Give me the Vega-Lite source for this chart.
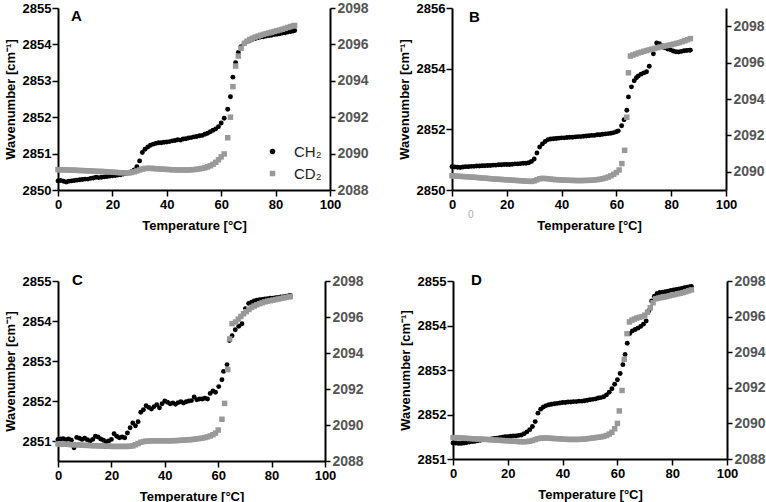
{
"$schema":"https://vega.github.io/schema/vega-lite/v6.json",
"padding":{"left":4,"top":1,"right":0,"bottom":2},
"config":{"view":{"stroke":null},"font":"Liberation Sans",
"axis":{"grid":false,"domainColor":"black","domainWidth":2,"tickColor":"black","tickWidth":1.5,"tickSize":6,"labelFont":"Liberation Sans","labelFontSize":13,"labelFontWeight":"bold","labelColor":"black","titleFont":"Liberation Sans","titleFontSize":13,"titleFontWeight":"bold","titleColor":"black","labelPadding":2,"labelOverlap":false,"labelFlush":false}},
"datasets":{
"A":[
{"s":"CH₂","t":0,"w":2850.25},{"s":"CH₂","t":1,"w":2850.26},{"s":"CH₂","t":2,"w":2850.24},{"s":"CH₂","t":3,"w":2850.22},{"s":"CH₂","t":4,"w":2850.24},{"s":"CH₂","t":5,"w":2850.25},{"s":"CH₂","t":6,"w":2850.26},{"s":"CH₂","t":7,"w":2850.27},{"s":"CH₂","t":8,"w":2850.28},{"s":"CH₂","t":9,"w":2850.29},{"s":"CH₂","t":10,"w":2850.30},{"s":"CH₂","t":11,"w":2850.30},{"s":"CH₂","t":12,"w":2850.32},{"s":"CH₂","t":13,"w":2850.33},{"s":"CH₂","t":14,"w":2850.35},{"s":"CH₂","t":15,"w":2850.34},{"s":"CH₂","t":16,"w":2850.35},{"s":"CH₂","t":17,"w":2850.36},{"s":"CH₂","t":18,"w":2850.37},{"s":"CH₂","t":19,"w":2850.38},{"s":"CH₂","t":20,"w":2850.39},{"s":"CH₂","t":21,"w":2850.40},{"s":"CH₂","t":22,"w":2850.41},{"s":"CH₂","t":23,"w":2850.42},{"s":"CH₂","t":24,"w":2850.44},{"s":"CH₂","t":25,"w":2850.45},{"s":"CH₂","t":26,"w":2850.47},{"s":"CH₂","t":27,"w":2850.50},{"s":"CH₂","t":28,"w":2850.55},{"s":"CH₂","t":29,"w":2850.64},{"s":"CH₂","t":30,"w":2850.80},{"s":"CH₂","t":31,"w":2851.03},{"s":"CH₂","t":32,"w":2851.12},{"s":"CH₂","t":33,"w":2851.18},{"s":"CH₂","t":34,"w":2851.23},{"s":"CH₂","t":35,"w":2851.26},{"s":"CH₂","t":36,"w":2851.28},{"s":"CH₂","t":37,"w":2851.30},{"s":"CH₂","t":38,"w":2851.30},{"s":"CH₂","t":39,"w":2851.31},{"s":"CH₂","t":40,"w":2851.32},{"s":"CH₂","t":41,"w":2851.33},{"s":"CH₂","t":42,"w":2851.35},{"s":"CH₂","t":43,"w":2851.36},{"s":"CH₂","t":44,"w":2851.38},{"s":"CH₂","t":45,"w":2851.37},{"s":"CH₂","t":46,"w":2851.40},{"s":"CH₂","t":47,"w":2851.41},{"s":"CH₂","t":48,"w":2851.43},{"s":"CH₂","t":49,"w":2851.44},{"s":"CH₂","t":50,"w":2851.46},{"s":"CH₂","t":51,"w":2851.47},{"s":"CH₂","t":52,"w":2851.49},{"s":"CH₂","t":53,"w":2851.50},{"s":"CH₂","t":54,"w":2851.53},{"s":"CH₂","t":55,"w":2851.56},{"s":"CH₂","t":56,"w":2851.60},{"s":"CH₂","t":57,"w":2851.64},{"s":"CH₂","t":58,"w":2851.68},{"s":"CH₂","t":59,"w":2851.74},{"s":"CH₂","t":60,"w":2851.84},{"s":"CH₂","t":61.1,"w":2851.97},{"s":"CH₂","t":62.4,"w":2852.22},{"s":"CH₂","t":63.4,"w":2852.56},{"s":"CH₂","t":64.3,"w":2853.10},{"s":"CH₂","t":65.3,"w":2853.50},{"s":"CH₂","t":66.3,"w":2853.78},{"s":"CH₂","t":67.3,"w":2853.94},{"s":"CH₂","t":68.5,"w":2854.03},{"s":"CH₂","t":69.5,"w":2854.08},{"s":"CH₂","t":70.5,"w":2854.11},{"s":"CH₂","t":71.5,"w":2854.14},{"s":"CH₂","t":72.5,"w":2854.16},{"s":"CH₂","t":73.5,"w":2854.18},{"s":"CH₂","t":74.5,"w":2854.20},{"s":"CH₂","t":75.5,"w":2854.21},{"s":"CH₂","t":76.5,"w":2854.23},{"s":"CH₂","t":77.5,"w":2854.24},{"s":"CH₂","t":78.5,"w":2854.25},{"s":"CH₂","t":79.5,"w":2854.27},{"s":"CH₂","t":80.5,"w":2854.28},{"s":"CH₂","t":81.5,"w":2854.29},{"s":"CH₂","t":82.5,"w":2854.31},{"s":"CH₂","t":83.5,"w":2854.32},{"s":"CH₂","t":84.5,"w":2854.34},{"s":"CH₂","t":85.5,"w":2854.35},{"s":"CH₂","t":86.5,"w":2854.37},{"s":"CH₂","t":87,"w":2854.38},
{"s":"CD₂","t":0,"w":2089.12},{"s":"CD₂","t":1,"w":2089.11},{"s":"CD₂","t":2,"w":2089.11},{"s":"CD₂","t":3,"w":2089.10},{"s":"CD₂","t":4,"w":2089.10},{"s":"CD₂","t":5,"w":2089.09},{"s":"CD₂","t":6,"w":2089.09},{"s":"CD₂","t":7,"w":2089.08},{"s":"CD₂","t":8,"w":2089.07},{"s":"CD₂","t":9,"w":2089.07},{"s":"CD₂","t":10,"w":2089.06},{"s":"CD₂","t":11,"w":2089.05},{"s":"CD₂","t":12,"w":2089.05},{"s":"CD₂","t":13,"w":2089.04},{"s":"CD₂","t":14,"w":2089.03},{"s":"CD₂","t":15,"w":2089.02},{"s":"CD₂","t":16,"w":2089.02},{"s":"CD₂","t":17,"w":2089.01},{"s":"CD₂","t":18,"w":2089.00},{"s":"CD₂","t":19,"w":2088.99},{"s":"CD₂","t":20,"w":2088.98},{"s":"CD₂","t":21,"w":2088.97},{"s":"CD₂","t":22,"w":2088.96},{"s":"CD₂","t":23,"w":2088.95},{"s":"CD₂","t":24,"w":2088.95},{"s":"CD₂","t":25,"w":2088.94},{"s":"CD₂","t":26,"w":2088.94},{"s":"CD₂","t":27,"w":2088.96},{"s":"CD₂","t":28,"w":2089.00},{"s":"CD₂","t":29,"w":2089.05},{"s":"CD₂","t":30,"w":2089.10},{"s":"CD₂","t":31,"w":2089.15},{"s":"CD₂","t":32,"w":2089.18},{"s":"CD₂","t":33,"w":2089.19},{"s":"CD₂","t":34,"w":2089.19},{"s":"CD₂","t":35,"w":2089.18},{"s":"CD₂","t":36,"w":2089.17},{"s":"CD₂","t":37,"w":2089.16},{"s":"CD₂","t":38,"w":2089.15},{"s":"CD₂","t":39,"w":2089.14},{"s":"CD₂","t":40,"w":2089.13},{"s":"CD₂","t":41,"w":2089.12},{"s":"CD₂","t":42,"w":2089.11},{"s":"CD₂","t":43,"w":2089.11},{"s":"CD₂","t":44,"w":2089.10},{"s":"CD₂","t":45,"w":2089.10},{"s":"CD₂","t":46,"w":2089.10},{"s":"CD₂","t":47,"w":2089.10},{"s":"CD₂","t":48,"w":2089.10},{"s":"CD₂","t":49,"w":2089.11},{"s":"CD₂","t":50,"w":2089.12},{"s":"CD₂","t":51,"w":2089.14},{"s":"CD₂","t":52,"w":2089.16},{"s":"CD₂","t":53,"w":2089.19},{"s":"CD₂","t":54,"w":2089.22},{"s":"CD₂","t":55,"w":2089.27},{"s":"CD₂","t":56,"w":2089.33},{"s":"CD₂","t":57,"w":2089.41},{"s":"CD₂","t":58,"w":2089.52},{"s":"CD₂","t":59,"w":2089.66},{"s":"CD₂","t":60,"w":2089.82},{"s":"CD₂","t":61.1,"w":2089.98},{"s":"CD₂","t":62.4,"w":2090.87},{"s":"CD₂","t":63.4,"w":2092.00},{"s":"CD₂","t":64.3,"w":2093.68},{"s":"CD₂","t":65.3,"w":2094.81},{"s":"CD₂","t":66.3,"w":2095.36},{"s":"CD₂","t":67.3,"w":2095.79},{"s":"CD₂","t":68.5,"w":2096.06},{"s":"CD₂","t":69.5,"w":2096.18},{"s":"CD₂","t":70.5,"w":2096.27},{"s":"CD₂","t":71.5,"w":2096.34},{"s":"CD₂","t":72.5,"w":2096.40},{"s":"CD₂","t":73.5,"w":2096.45},{"s":"CD₂","t":74.5,"w":2096.50},{"s":"CD₂","t":75.5,"w":2096.55},{"s":"CD₂","t":76.5,"w":2096.59},{"s":"CD₂","t":77.5,"w":2096.63},{"s":"CD₂","t":78.5,"w":2096.67},{"s":"CD₂","t":79.5,"w":2096.71},{"s":"CD₂","t":80.5,"w":2096.75},{"s":"CD₂","t":81.5,"w":2096.79},{"s":"CD₂","t":82.5,"w":2096.83},{"s":"CD₂","t":83.5,"w":2096.88},{"s":"CD₂","t":84.5,"w":2096.93},{"s":"CD₂","t":85.5,"w":2096.98},{"s":"CD₂","t":86.5,"w":2097.02},{"s":"CD₂","t":87,"w":2097.04}
],
"B":[
{"s":"CH₂","t":0,"w":2850.77},{"s":"CH₂","t":1,"w":2850.76},{"s":"CH₂","t":2,"w":2850.75},{"s":"CH₂","t":3,"w":2850.74},{"s":"CH₂","t":4,"w":2850.76},{"s":"CH₂","t":5,"w":2850.77},{"s":"CH₂","t":6,"w":2850.77},{"s":"CH₂","t":7,"w":2850.78},{"s":"CH₂","t":8,"w":2850.78},{"s":"CH₂","t":9,"w":2850.79},{"s":"CH₂","t":10,"w":2850.79},{"s":"CH₂","t":11,"w":2850.80},{"s":"CH₂","t":12,"w":2850.80},{"s":"CH₂","t":13,"w":2850.81},{"s":"CH₂","t":14,"w":2850.81},{"s":"CH₂","t":15,"w":2850.82},{"s":"CH₂","t":16,"w":2850.82},{"s":"CH₂","t":17,"w":2850.83},{"s":"CH₂","t":18,"w":2850.83},{"s":"CH₂","t":19,"w":2850.84},{"s":"CH₂","t":20,"w":2850.84},{"s":"CH₂","t":21,"w":2850.84},{"s":"CH₂","t":22,"w":2850.85},{"s":"CH₂","t":23,"w":2850.86},{"s":"CH₂","t":24,"w":2850.86},{"s":"CH₂","t":25,"w":2850.87},{"s":"CH₂","t":26,"w":2850.88},{"s":"CH₂","t":27,"w":2850.88},{"s":"CH₂","t":28,"w":2850.90},{"s":"CH₂","t":29,"w":2850.94},{"s":"CH₂","t":30,"w":2851.02},{"s":"CH₂","t":31,"w":2851.22},{"s":"CH₂","t":32,"w":2851.42},{"s":"CH₂","t":33,"w":2851.52},{"s":"CH₂","t":34,"w":2851.60},{"s":"CH₂","t":35,"w":2851.66},{"s":"CH₂","t":36,"w":2851.68},{"s":"CH₂","t":37,"w":2851.69},{"s":"CH₂","t":38,"w":2851.70},{"s":"CH₂","t":39,"w":2851.71},{"s":"CH₂","t":40,"w":2851.72},{"s":"CH₂","t":41,"w":2851.72},{"s":"CH₂","t":42,"w":2851.73},{"s":"CH₂","t":43,"w":2851.74},{"s":"CH₂","t":44,"w":2851.74},{"s":"CH₂","t":45,"w":2851.75},{"s":"CH₂","t":46,"w":2851.76},{"s":"CH₂","t":47,"w":2851.76},{"s":"CH₂","t":48,"w":2851.77},{"s":"CH₂","t":49,"w":2851.78},{"s":"CH₂","t":50,"w":2851.79},{"s":"CH₂","t":51,"w":2851.80},{"s":"CH₂","t":52,"w":2851.80},{"s":"CH₂","t":53,"w":2851.82},{"s":"CH₂","t":54,"w":2851.82},{"s":"CH₂","t":55,"w":2851.84},{"s":"CH₂","t":56,"w":2851.85},{"s":"CH₂","t":57,"w":2851.86},{"s":"CH₂","t":58,"w":2851.87},{"s":"CH₂","t":59,"w":2851.89},{"s":"CH₂","t":60,"w":2851.92},{"s":"CH₂","t":60.7,"w":2851.95},{"s":"CH₂","t":61.9,"w":2852.12},{"s":"CH₂","t":62.8,"w":2852.32},{"s":"CH₂","t":63.8,"w":2852.63},{"s":"CH₂","t":64.4,"w":2853.07},{"s":"CH₂","t":65.5,"w":2853.40},{"s":"CH₂","t":66.5,"w":2853.60},{"s":"CH₂","t":67.3,"w":2853.70},{"s":"CH₂","t":68,"w":2853.76},{"s":"CH₂","t":69,"w":2853.82},{"s":"CH₂","t":70,"w":2853.86},{"s":"CH₂","t":71,"w":2853.90},{"s":"CH₂","t":72,"w":2854.08},{"s":"CH₂","t":73.5,"w":2854.49},{"s":"CH₂","t":74.7,"w":2854.85},{"s":"CH₂","t":75.7,"w":2854.82},{"s":"CH₂","t":76.7,"w":2854.75},{"s":"CH₂","t":77.7,"w":2854.69},{"s":"CH₂","t":78.7,"w":2854.65},{"s":"CH₂","t":79.7,"w":2854.62},{"s":"CH₂","t":80.7,"w":2854.58},{"s":"CH₂","t":81.7,"w":2854.56},{"s":"CH₂","t":82.7,"w":2854.55},{"s":"CH₂","t":83.7,"w":2854.57},{"s":"CH₂","t":84.7,"w":2854.59},{"s":"CH₂","t":85.7,"w":2854.60},{"s":"CH₂","t":86.7,"w":2854.61},{"s":"CH₂","t":87,"w":2854.61},
{"s":"CD₂","t":0,"w":2089.78},{"s":"CD₂","t":1,"w":2089.77},{"s":"CD₂","t":2,"w":2089.76},{"s":"CD₂","t":3,"w":2089.75},{"s":"CD₂","t":4,"w":2089.74},{"s":"CD₂","t":5,"w":2089.73},{"s":"CD₂","t":6,"w":2089.72},{"s":"CD₂","t":7,"w":2089.71},{"s":"CD₂","t":8,"w":2089.70},{"s":"CD₂","t":9,"w":2089.69},{"s":"CD₂","t":10,"w":2089.67},{"s":"CD₂","t":11,"w":2089.66},{"s":"CD₂","t":12,"w":2089.65},{"s":"CD₂","t":13,"w":2089.64},{"s":"CD₂","t":14,"w":2089.62},{"s":"CD₂","t":15,"w":2089.61},{"s":"CD₂","t":16,"w":2089.60},{"s":"CD₂","t":17,"w":2089.59},{"s":"CD₂","t":18,"w":2089.58},{"s":"CD₂","t":19,"w":2089.57},{"s":"CD₂","t":20,"w":2089.56},{"s":"CD₂","t":21,"w":2089.55},{"s":"CD₂","t":22,"w":2089.54},{"s":"CD₂","t":23,"w":2089.53},{"s":"CD₂","t":24,"w":2089.52},{"s":"CD₂","t":25,"w":2089.51},{"s":"CD₂","t":26,"w":2089.50},{"s":"CD₂","t":27,"w":2089.49},{"s":"CD₂","t":28,"w":2089.48},{"s":"CD₂","t":29,"w":2089.47},{"s":"CD₂","t":30,"w":2089.50},{"s":"CD₂","t":31,"w":2089.56},{"s":"CD₂","t":32,"w":2089.62},{"s":"CD₂","t":33,"w":2089.64},{"s":"CD₂","t":34,"w":2089.63},{"s":"CD₂","t":35,"w":2089.62},{"s":"CD₂","t":36,"w":2089.60},{"s":"CD₂","t":37,"w":2089.58},{"s":"CD₂","t":38,"w":2089.57},{"s":"CD₂","t":39,"w":2089.56},{"s":"CD₂","t":40,"w":2089.55},{"s":"CD₂","t":41,"w":2089.54},{"s":"CD₂","t":42,"w":2089.54},{"s":"CD₂","t":43,"w":2089.53},{"s":"CD₂","t":44,"w":2089.53},{"s":"CD₂","t":45,"w":2089.52},{"s":"CD₂","t":46,"w":2089.52},{"s":"CD₂","t":47,"w":2089.52},{"s":"CD₂","t":48,"w":2089.52},{"s":"CD₂","t":49,"w":2089.53},{"s":"CD₂","t":50,"w":2089.53},{"s":"CD₂","t":51,"w":2089.54},{"s":"CD₂","t":52,"w":2089.55},{"s":"CD₂","t":53,"w":2089.57},{"s":"CD₂","t":54,"w":2089.59},{"s":"CD₂","t":55,"w":2089.62},{"s":"CD₂","t":56,"w":2089.66},{"s":"CD₂","t":57,"w":2089.71},{"s":"CD₂","t":58,"w":2089.78},{"s":"CD₂","t":59,"w":2089.86},{"s":"CD₂","t":60,"w":2089.96},{"s":"CD₂","t":61,"w":2090.10},{"s":"CD₂","t":62,"w":2090.45},{"s":"CD₂","t":63,"w":2091.18},{"s":"CD₂","t":63.8,"w":2093.00},{"s":"CD₂","t":64.4,"w":2095.44},{"s":"CD₂","t":65.1,"w":2096.36},{"s":"CD₂","t":66,"w":2096.42},{"s":"CD₂","t":67,"w":2096.47},{"s":"CD₂","t":68,"w":2096.53},{"s":"CD₂","t":69,"w":2096.57},{"s":"CD₂","t":70,"w":2096.62},{"s":"CD₂","t":71,"w":2096.66},{"s":"CD₂","t":72,"w":2096.70},{"s":"CD₂","t":73,"w":2096.74},{"s":"CD₂","t":74,"w":2096.78},{"s":"CD₂","t":75,"w":2096.82},{"s":"CD₂","t":76,"w":2096.86},{"s":"CD₂","t":77,"w":2096.89},{"s":"CD₂","t":78,"w":2096.92},{"s":"CD₂","t":79,"w":2096.95},{"s":"CD₂","t":80,"w":2096.98},{"s":"CD₂","t":81,"w":2097.02},{"s":"CD₂","t":82,"w":2097.06},{"s":"CD₂","t":83,"w":2097.10},{"s":"CD₂","t":84,"w":2097.15},{"s":"CD₂","t":85,"w":2097.20},{"s":"CD₂","t":86,"w":2097.26},{"s":"CD₂","t":87,"w":2097.32}
],
"C":[
{"s":"CH₂","t":0,"w":2851.04},{"s":"CH₂","t":1,"w":2851.05},{"s":"CH₂","t":2,"w":2851.06},{"s":"CH₂","t":3,"w":2851.03},{"s":"CH₂","t":4,"w":2851.05},{"s":"CH₂","t":5,"w":2851.02},{"s":"CH₂","t":6,"w":2850.83},{"s":"CH₂","t":7,"w":2851.09},{"s":"CH₂","t":8,"w":2851.07},{"s":"CH₂","t":9,"w":2851.04},{"s":"CH₂","t":10,"w":2851.07},{"s":"CH₂","t":11,"w":2851.03},{"s":"CH₂","t":12,"w":2851.00},{"s":"CH₂","t":13,"w":2851.04},{"s":"CH₂","t":14,"w":2851.12},{"s":"CH₂","t":15,"w":2851.10},{"s":"CH₂","t":16,"w":2851.05},{"s":"CH₂","t":17,"w":2851.02},{"s":"CH₂","t":18,"w":2850.98},{"s":"CH₂","t":19,"w":2851.00},{"s":"CH₂","t":20,"w":2851.04},{"s":"CH₂","t":21,"w":2851.18},{"s":"CH₂","t":22,"w":2851.12},{"s":"CH₂","t":23,"w":2851.08},{"s":"CH₂","t":24,"w":2851.10},{"s":"CH₂","t":25,"w":2851.08},{"s":"CH₂","t":26,"w":2851.20},{"s":"CH₂","t":27,"w":2851.33},{"s":"CH₂","t":28,"w":2851.45},{"s":"CH₂","t":29,"w":2851.38},{"s":"CH₂","t":30,"w":2851.48},{"s":"CH₂","t":31,"w":2851.72},{"s":"CH₂","t":32,"w":2851.78},{"s":"CH₂","t":33,"w":2851.88},{"s":"CH₂","t":34,"w":2851.84},{"s":"CH₂","t":35,"w":2851.80},{"s":"CH₂","t":36,"w":2851.86},{"s":"CH₂","t":37,"w":2851.91},{"s":"CH₂","t":38,"w":2851.83},{"s":"CH₂","t":39,"w":2851.93},{"s":"CH₂","t":40,"w":2852.00},{"s":"CH₂","t":41,"w":2851.97},{"s":"CH₂","t":42,"w":2851.93},{"s":"CH₂","t":43,"w":2851.95},{"s":"CH₂","t":44,"w":2851.92},{"s":"CH₂","t":45,"w":2851.96},{"s":"CH₂","t":46,"w":2851.98},{"s":"CH₂","t":47,"w":2851.95},{"s":"CH₂","t":48,"w":2851.98},{"s":"CH₂","t":49,"w":2852.00},{"s":"CH₂","t":50,"w":2852.01},{"s":"CH₂","t":51,"w":2852.10},{"s":"CH₂","t":52,"w":2852.03},{"s":"CH₂","t":53,"w":2852.05},{"s":"CH₂","t":54,"w":2852.05},{"s":"CH₂","t":55,"w":2852.07},{"s":"CH₂","t":56,"w":2852.05},{"s":"CH₂","t":57,"w":2852.19},{"s":"CH₂","t":58,"w":2852.25},{"s":"CH₂","t":59,"w":2852.22},{"s":"CH₂","t":60.2,"w":2852.36},{"s":"CH₂","t":61.4,"w":2852.53},{"s":"CH₂","t":62,"w":2852.74},{"s":"CH₂","t":63.3,"w":2852.91},{"s":"CH₂","t":64.2,"w":2853.51},{"s":"CH₂","t":65.2,"w":2853.63},{"s":"CH₂","t":66.4,"w":2853.78},{"s":"CH₂","t":67.7,"w":2853.87},{"s":"CH₂","t":68.9,"w":2853.93},{"s":"CH₂","t":70.2,"w":2854.31},{"s":"CH₂","t":71.4,"w":2854.44},{"s":"CH₂","t":72.5,"w":2854.47},{"s":"CH₂","t":73.5,"w":2854.50},{"s":"CH₂","t":74.5,"w":2854.52},{"s":"CH₂","t":75.5,"w":2854.53},{"s":"CH₂","t":76.5,"w":2854.54},{"s":"CH₂","t":77.5,"w":2854.55},{"s":"CH₂","t":78.5,"w":2854.56},{"s":"CH₂","t":79.5,"w":2854.57},{"s":"CH₂","t":80.5,"w":2854.57},{"s":"CH₂","t":81.5,"w":2854.58},{"s":"CH₂","t":82.5,"w":2854.59},{"s":"CH₂","t":83.5,"w":2854.60},{"s":"CH₂","t":84.5,"w":2854.61},{"s":"CH₂","t":85.5,"w":2854.62},{"s":"CH₂","t":86.5,"w":2854.63},{"s":"CH₂","t":87,"w":2854.64},
{"s":"CD₂","t":0,"w":2088.95},{"s":"CD₂","t":1,"w":2088.95},{"s":"CD₂","t":2,"w":2088.94},{"s":"CD₂","t":3,"w":2088.93},{"s":"CD₂","t":4,"w":2088.92},{"s":"CD₂","t":5,"w":2088.91},{"s":"CD₂","t":6,"w":2088.90},{"s":"CD₂","t":7,"w":2088.90},{"s":"CD₂","t":8,"w":2088.89},{"s":"CD₂","t":9,"w":2088.88},{"s":"CD₂","t":10,"w":2088.87},{"s":"CD₂","t":11,"w":2088.87},{"s":"CD₂","t":12,"w":2088.86},{"s":"CD₂","t":13,"w":2088.85},{"s":"CD₂","t":14,"w":2088.85},{"s":"CD₂","t":15,"w":2088.84},{"s":"CD₂","t":16,"w":2088.84},{"s":"CD₂","t":17,"w":2088.83},{"s":"CD₂","t":18,"w":2088.82},{"s":"CD₂","t":19,"w":2088.82},{"s":"CD₂","t":20,"w":2088.81},{"s":"CD₂","t":21,"w":2088.81},{"s":"CD₂","t":22,"w":2088.81},{"s":"CD₂","t":23,"w":2088.81},{"s":"CD₂","t":24,"w":2088.81},{"s":"CD₂","t":25,"w":2088.81},{"s":"CD₂","t":26,"w":2088.81},{"s":"CD₂","t":27,"w":2088.82},{"s":"CD₂","t":28,"w":2088.84},{"s":"CD₂","t":29,"w":2088.90},{"s":"CD₂","t":30,"w":2088.97},{"s":"CD₂","t":31,"w":2089.04},{"s":"CD₂","t":32,"w":2089.08},{"s":"CD₂","t":33,"w":2089.10},{"s":"CD₂","t":34,"w":2089.11},{"s":"CD₂","t":35,"w":2089.12},{"s":"CD₂","t":36,"w":2089.12},{"s":"CD₂","t":37,"w":2089.12},{"s":"CD₂","t":38,"w":2089.12},{"s":"CD₂","t":39,"w":2089.12},{"s":"CD₂","t":40,"w":2089.12},{"s":"CD₂","t":41,"w":2089.12},{"s":"CD₂","t":42,"w":2089.12},{"s":"CD₂","t":43,"w":2089.13},{"s":"CD₂","t":44,"w":2089.13},{"s":"CD₂","t":45,"w":2089.14},{"s":"CD₂","t":46,"w":2089.15},{"s":"CD₂","t":47,"w":2089.16},{"s":"CD₂","t":48,"w":2089.17},{"s":"CD₂","t":49,"w":2089.18},{"s":"CD₂","t":50,"w":2089.19},{"s":"CD₂","t":51,"w":2089.21},{"s":"CD₂","t":52,"w":2089.23},{"s":"CD₂","t":53,"w":2089.25},{"s":"CD₂","t":54,"w":2089.27},{"s":"CD₂","t":55,"w":2089.30},{"s":"CD₂","t":56,"w":2089.34},{"s":"CD₂","t":57,"w":2089.39},{"s":"CD₂","t":58,"w":2089.46},{"s":"CD₂","t":59,"w":2089.55},{"s":"CD₂","t":60,"w":2089.72},{"s":"CD₂","t":61.4,"w":2090.32},{"s":"CD₂","t":62.4,"w":2091.20},{"s":"CD₂","t":63.6,"w":2093.08},{"s":"CD₂","t":64.3,"w":2094.78},{"s":"CD₂","t":65.2,"w":2095.63},{"s":"CD₂","t":66.5,"w":2095.72},{"s":"CD₂","t":67.5,"w":2095.88},{"s":"CD₂","t":68.5,"w":2096.03},{"s":"CD₂","t":69.5,"w":2096.18},{"s":"CD₂","t":70.5,"w":2096.30},{"s":"CD₂","t":71.5,"w":2096.42},{"s":"CD₂","t":72.5,"w":2096.53},{"s":"CD₂","t":73.5,"w":2096.61},{"s":"CD₂","t":74.5,"w":2096.68},{"s":"CD₂","t":75.5,"w":2096.74},{"s":"CD₂","t":76.5,"w":2096.79},{"s":"CD₂","t":77.5,"w":2096.84},{"s":"CD₂","t":78.5,"w":2096.88},{"s":"CD₂","t":79.5,"w":2096.91},{"s":"CD₂","t":80.5,"w":2096.94},{"s":"CD₂","t":81.5,"w":2096.97},{"s":"CD₂","t":82.5,"w":2097.00},{"s":"CD₂","t":83.5,"w":2097.03},{"s":"CD₂","t":84.5,"w":2097.06},{"s":"CD₂","t":85.5,"w":2097.09},{"s":"CD₂","t":86.5,"w":2097.12},{"s":"CD₂","t":87,"w":2097.14}
],
"D":[
{"s":"CH₂","t":0,"w":2851.36},{"s":"CH₂","t":1,"w":2851.36},{"s":"CH₂","t":2,"w":2851.35},{"s":"CH₂","t":3,"w":2851.35},{"s":"CH₂","t":4,"w":2851.36},{"s":"CH₂","t":5,"w":2851.37},{"s":"CH₂","t":6,"w":2851.38},{"s":"CH₂","t":7,"w":2851.39},{"s":"CH₂","t":8,"w":2851.40},{"s":"CH₂","t":9,"w":2851.41},{"s":"CH₂","t":10,"w":2851.42},{"s":"CH₂","t":11,"w":2851.43},{"s":"CH₂","t":12,"w":2851.44},{"s":"CH₂","t":13,"w":2851.44},{"s":"CH₂","t":14,"w":2851.45},{"s":"CH₂","t":15,"w":2851.46},{"s":"CH₂","t":16,"w":2851.47},{"s":"CH₂","t":17,"w":2851.48},{"s":"CH₂","t":18,"w":2851.49},{"s":"CH₂","t":19,"w":2851.50},{"s":"CH₂","t":20,"w":2851.50},{"s":"CH₂","t":21,"w":2851.51},{"s":"CH₂","t":22,"w":2851.52},{"s":"CH₂","t":23,"w":2851.52},{"s":"CH₂","t":24,"w":2851.53},{"s":"CH₂","t":25,"w":2851.54},{"s":"CH₂","t":26,"w":2851.57},{"s":"CH₂","t":27,"w":2851.61},{"s":"CH₂","t":28,"w":2851.66},{"s":"CH₂","t":29,"w":2851.73},{"s":"CH₂","t":30,"w":2851.84},{"s":"CH₂","t":31,"w":2852.03},{"s":"CH₂","t":32,"w":2852.12},{"s":"CH₂","t":33,"w":2852.17},{"s":"CH₂","t":34,"w":2852.20},{"s":"CH₂","t":35,"w":2852.22},{"s":"CH₂","t":36,"w":2852.23},{"s":"CH₂","t":37,"w":2852.24},{"s":"CH₂","t":38,"w":2852.25},{"s":"CH₂","t":39,"w":2852.26},{"s":"CH₂","t":40,"w":2852.27},{"s":"CH₂","t":41,"w":2852.27},{"s":"CH₂","t":42,"w":2852.28},{"s":"CH₂","t":43,"w":2852.28},{"s":"CH₂","t":44,"w":2852.29},{"s":"CH₂","t":45,"w":2852.29},{"s":"CH₂","t":46,"w":2852.30},{"s":"CH₂","t":47,"w":2852.30},{"s":"CH₂","t":48,"w":2852.31},{"s":"CH₂","t":49,"w":2852.32},{"s":"CH₂","t":50,"w":2852.33},{"s":"CH₂","t":51,"w":2852.34},{"s":"CH₂","t":52,"w":2852.35},{"s":"CH₂","t":53,"w":2852.37},{"s":"CH₂","t":54,"w":2852.38},{"s":"CH₂","t":55,"w":2852.40},{"s":"CH₂","t":56,"w":2852.44},{"s":"CH₂","t":57,"w":2852.50},{"s":"CH₂","t":58,"w":2852.58},{"s":"CH₂","t":59,"w":2852.68},{"s":"CH₂","t":60,"w":2852.78},{"s":"CH₂","t":61,"w":2852.92},{"s":"CH₂","t":62,"w":2853.12},{"s":"CH₂","t":62.8,"w":2853.35},{"s":"CH₂","t":63.6,"w":2853.60},{"s":"CH₂","t":64.5,"w":2853.82},{"s":"CH₂","t":65.5,"w":2853.88},{"s":"CH₂","t":66.5,"w":2853.91},{"s":"CH₂","t":67.5,"w":2853.94},{"s":"CH₂","t":68.5,"w":2853.98},{"s":"CH₂","t":69.5,"w":2854.03},{"s":"CH₂","t":70.5,"w":2854.10},{"s":"CH₂","t":71.5,"w":2854.33},{"s":"CH₂","t":72.5,"w":2854.55},{"s":"CH₂","t":73.5,"w":2854.66},{"s":"CH₂","t":74.5,"w":2854.72},{"s":"CH₂","t":75.5,"w":2854.74},{"s":"CH₂","t":76.5,"w":2854.75},{"s":"CH₂","t":77.5,"w":2854.76},{"s":"CH₂","t":78.5,"w":2854.77},{"s":"CH₂","t":79.5,"w":2854.79},{"s":"CH₂","t":80.5,"w":2854.80},{"s":"CH₂","t":81.5,"w":2854.81},{"s":"CH₂","t":82.5,"w":2854.82},{"s":"CH₂","t":83.5,"w":2854.83},{"s":"CH₂","t":84.5,"w":2854.85},{"s":"CH₂","t":85.5,"w":2854.86},{"s":"CH₂","t":86.5,"w":2854.87},{"s":"CH₂","t":87,"w":2854.88},
{"s":"CD₂","t":0,"w":2089.20},{"s":"CD₂","t":1,"w":2089.20},{"s":"CD₂","t":2,"w":2089.19},{"s":"CD₂","t":3,"w":2089.18},{"s":"CD₂","t":4,"w":2089.17},{"s":"CD₂","t":5,"w":2089.16},{"s":"CD₂","t":6,"w":2089.15},{"s":"CD₂","t":7,"w":2089.14},{"s":"CD₂","t":8,"w":2089.13},{"s":"CD₂","t":9,"w":2089.12},{"s":"CD₂","t":10,"w":2089.12},{"s":"CD₂","t":11,"w":2089.11},{"s":"CD₂","t":12,"w":2089.10},{"s":"CD₂","t":13,"w":2089.09},{"s":"CD₂","t":14,"w":2089.08},{"s":"CD₂","t":15,"w":2089.07},{"s":"CD₂","t":16,"w":2089.06},{"s":"CD₂","t":17,"w":2089.05},{"s":"CD₂","t":18,"w":2089.04},{"s":"CD₂","t":19,"w":2089.03},{"s":"CD₂","t":20,"w":2089.02},{"s":"CD₂","t":21,"w":2089.01},{"s":"CD₂","t":22,"w":2089.00},{"s":"CD₂","t":23,"w":2088.99},{"s":"CD₂","t":24,"w":2088.98},{"s":"CD₂","t":25,"w":2088.97},{"s":"CD₂","t":26,"w":2088.97},{"s":"CD₂","t":27,"w":2088.98},{"s":"CD₂","t":28,"w":2089.00},{"s":"CD₂","t":29,"w":2089.04},{"s":"CD₂","t":30,"w":2089.09},{"s":"CD₂","t":31,"w":2089.14},{"s":"CD₂","t":32,"w":2089.17},{"s":"CD₂","t":33,"w":2089.18},{"s":"CD₂","t":34,"w":2089.18},{"s":"CD₂","t":35,"w":2089.17},{"s":"CD₂","t":36,"w":2089.16},{"s":"CD₂","t":37,"w":2089.15},{"s":"CD₂","t":38,"w":2089.14},{"s":"CD₂","t":39,"w":2089.13},{"s":"CD₂","t":40,"w":2089.12},{"s":"CD₂","t":41,"w":2089.11},{"s":"CD₂","t":42,"w":2089.10},{"s":"CD₂","t":43,"w":2089.10},{"s":"CD₂","t":44,"w":2089.10},{"s":"CD₂","t":45,"w":2089.10},{"s":"CD₂","t":46,"w":2089.10},{"s":"CD₂","t":47,"w":2089.11},{"s":"CD₂","t":48,"w":2089.12},{"s":"CD₂","t":49,"w":2089.14},{"s":"CD₂","t":50,"w":2089.16},{"s":"CD₂","t":51,"w":2089.18},{"s":"CD₂","t":52,"w":2089.20},{"s":"CD₂","t":53,"w":2089.22},{"s":"CD₂","t":54,"w":2089.24},{"s":"CD₂","t":55,"w":2089.27},{"s":"CD₂","t":56,"w":2089.32},{"s":"CD₂","t":57,"w":2089.40},{"s":"CD₂","t":58,"w":2089.50},{"s":"CD₂","t":59,"w":2089.70},{"s":"CD₂","t":60,"w":2090.00},{"s":"CD₂","t":60.7,"w":2090.70},{"s":"CD₂","t":61.7,"w":2091.85},{"s":"CD₂","t":62.5,"w":2093.60},{"s":"CD₂","t":63.5,"w":2095.04},{"s":"CD₂","t":64.4,"w":2095.70},{"s":"CD₂","t":65.3,"w":2095.80},{"s":"CD₂","t":66.2,"w":2095.86},{"s":"CD₂","t":67.1,"w":2095.92},{"s":"CD₂","t":68,"w":2095.96},{"s":"CD₂","t":69,"w":2096.00},{"s":"CD₂","t":70,"w":2096.08},{"s":"CD₂","t":71,"w":2096.25},{"s":"CD₂","t":72,"w":2096.50},{"s":"CD₂","t":73,"w":2096.78},{"s":"CD₂","t":74,"w":2097.00},{"s":"CD₂","t":75,"w":2097.04},{"s":"CD₂","t":76,"w":2097.07},{"s":"CD₂","t":77,"w":2097.10},{"s":"CD₂","t":78,"w":2097.13},{"s":"CD₂","t":79,"w":2097.17},{"s":"CD₂","t":80,"w":2097.21},{"s":"CD₂","t":81,"w":2097.24},{"s":"CD₂","t":82,"w":2097.28},{"s":"CD₂","t":83,"w":2097.31},{"s":"CD₂","t":84,"w":2097.35},{"s":"CD₂","t":85,"w":2097.40},{"s":"CD₂","t":86,"w":2097.45},{"s":"CD₂","t":87,"w":2097.50}
]},
"resolve":{"legend":{"color":"independent","shape":"independent"}},
"spacing":40,
"vconcat":[
{"hconcat":[
{"width":272,"height":182,"data":{"name":"A"},
"layer":[
{"layer":[
{"transform":[{"filter":"datum.s=='CH₂'"}],"mark":{"type":"point","filled":true,"size":24,"opacity":1},
"encoding":{"x":{"field":"t","type":"quantitative","scale":{"domain":[0,100],"nice":false},"axis":{"values":[0,20,40,60,80,100],"title":"Temperature [°C]","titlePadding":8}},
"y":{"field":"w","type":"quantitative","scale":{"domain":[2850,2855],"zero":false,"nice":false},"axis":{"values":[2850,2851,2852,2853,2854,2855],"format":"d","title":"Wavenumber [cm⁻¹]","labelPadding":1,"titlePadding":5}},
"color":{"field":"s","type":"nominal","scale":{"domain":["CH₂","CD₂"],"range":["#000000","#999999"]},"legend":{"orient":"bottom-right","offset":8,"title":null,"labelFontSize":15,"labelFont":"Liberation Sans","labelFontWeight":"normal","labelColor":"#222222","symbolSize":30,"rowPadding":6,"labelOffset":14}},
"shape":{"field":"s","type":"nominal","scale":{"domain":["CH₂","CD₂"],"range":["circle","square"]},"legend":{"orient":"bottom-right","offset":8,"title":null,"labelFontSize":15,"labelFont":"Liberation Sans","labelFontWeight":"normal","labelColor":"#222222","symbolSize":30,"rowPadding":6,"labelOffset":14}}}},
{"data":{"values":[{}]},"mark":{"type":"text","fontSize":15,"fontWeight":"bold","align":"left","baseline":"alphabetic","font":"Liberation Sans"},
"encoding":{"x":{"datum":4.8,"type":"quantitative","axis":{"values":[0,20,40,60,80,100],"title":"Temperature [°C]","titlePadding":8}},"y":{"datum":2854.64,"type":"quantitative","axis":{"values":[2850,2851,2852,2853,2854,2855],"format":"d","title":"Wavenumber [cm⁻¹]","labelPadding":1,"titlePadding":5}},"text":{"value":"A"}}}
]},
{"transform":[{"filter":"datum.s=='CD₂'"}],"mark":{"type":"square","size":30,"opacity":1},
"encoding":{"x":{"field":"t","type":"quantitative"},
"y":{"field":"w","type":"quantitative","scale":{"domain":[2088,2098],"zero":false,"nice":false},"axis":{"orient":"right","values":[2088,2090,2092,2094,2096,2098],"format":"d","title":null,"labelColor":"#555555","labelFontSize":14,"tickSize":5}},
"color":{"field":"s","type":"nominal"},"shape":{"field":"s","type":"nominal"}}}
],
"resolve":{"scale":{"y":"independent"}}},
{"width":274,"height":182,"data":{"name":"B"},
"layer":[
{"layer":[
{"transform":[{"filter":"datum.s=='CH₂'"}],"mark":{"type":"point","filled":true,"size":24,"opacity":1},
"encoding":{"x":{"field":"t","type":"quantitative","scale":{"domain":[0,100],"nice":false},"axis":{"values":[0,20,40,60,80,100],"title":"Temperature [°C]","titlePadding":8}},
"y":{"field":"w","type":"quantitative","scale":{"domain":[2850,2856],"zero":false,"nice":false},"axis":{"values":[2850,2852,2854,2856],"format":"d","title":"Wavenumber [cm⁻¹]","labelPadding":1,"titlePadding":5}},
"color":{"field":"s","type":"nominal","scale":{"domain":["CH₂","CD₂"],"range":["#000000","#999999"]},"legend":null},
"shape":{"field":"s","type":"nominal","scale":{"domain":["CH₂","CD₂"],"range":["circle","square"]},"legend":null}}},
{"data":{"values":[{}]},"mark":{"type":"text","fontSize":15,"fontWeight":"bold","align":"left","baseline":"alphabetic","font":"Liberation Sans"},
"encoding":{"x":{"datum":6.2,"type":"quantitative","axis":{"values":[0,20,40,60,80,100],"title":"Temperature [°C]","titlePadding":8}},"y":{"datum":2855.54,"type":"quantitative","axis":{"values":[2850,2852,2854,2856],"format":"d","title":"Wavenumber [cm⁻¹]","labelPadding":1,"titlePadding":5}},"text":{"value":"B"}}},
{"data":{"values":[{}]},"mark":{"type":"text","fontSize":10,"align":"center","baseline":"middle","color":"#aaaaaa","font":"Liberation Sans"},
"encoding":{"x":{"datum":6.9,"type":"quantitative","axis":{"values":[0,20,40,60,80,100],"title":"Temperature [°C]","titlePadding":8}},"y":{"datum":2849.17,"type":"quantitative","axis":{"values":[2850,2852,2854,2856],"format":"d","title":"Wavenumber [cm⁻¹]","labelPadding":1,"titlePadding":5}},"text":{"value":"0"}}}
]},
{"transform":[{"filter":"datum.s=='CD₂'"}],"mark":{"type":"square","size":30,"opacity":1},
"encoding":{"x":{"field":"t","type":"quantitative"},
"y":{"field":"w","type":"quantitative","scale":{"domain":[2089,2099],"zero":false,"nice":false},"axis":{"orient":"right","values":[2090,2092,2094,2096,2098],"format":"d","title":null,"labelColor":"#555555","labelFontSize":14,"tickSize":5}},
"color":{"field":"s","type":"nominal","legend":null},"shape":{"field":"s","type":"nominal","legend":null}}}
],
"resolve":{"scale":{"y":"independent"}}}
],"spacing":29,"resolve":{"legend":{"color":"independent","shape":"independent"}}},
{"hconcat":[
{"width":267,"height":180,"data":{"name":"C"},
"layer":[
{"layer":[
{"transform":[{"filter":"datum.s=='CH₂'"}],"mark":{"type":"point","filled":true,"size":24,"opacity":1},
"encoding":{"x":{"field":"t","type":"quantitative","scale":{"domain":[0,100],"nice":false},"axis":{"values":[0,20,40,60,80,100],"title":"Temperature [°C]","titlePadding":8}},
"y":{"field":"w","type":"quantitative","scale":{"domain":[2850.5,2855],"zero":false,"nice":false},"axis":{"values":[2851,2852,2853,2854,2855],"format":"d","title":"Wavenumber [cm⁻¹]","labelPadding":1,"titlePadding":5}},
"color":{"field":"s","type":"nominal","scale":{"domain":["CH₂","CD₂"],"range":["#000000","#999999"]},"legend":null},
"shape":{"field":"s","type":"nominal","scale":{"domain":["CH₂","CD₂"],"range":["circle","square"]},"legend":null}}},
{"data":{"values":[{}]},"mark":{"type":"text","fontSize":15,"fontWeight":"bold","align":"left","baseline":"alphabetic","font":"Liberation Sans"},
"encoding":{"x":{"datum":5.2,"type":"quantitative","axis":{"values":[0,20,40,60,80,100],"title":"Temperature [°C]","titlePadding":8}},"y":{"datum":2854.9,"type":"quantitative","axis":{"values":[2851,2852,2853,2854,2855],"format":"d","title":"Wavenumber [cm⁻¹]","labelPadding":1,"titlePadding":5}},"text":{"value":"C"}}}
]},
{"transform":[{"filter":"datum.s=='CD₂'"}],"mark":{"type":"square","size":30,"opacity":1},
"encoding":{"x":{"field":"t","type":"quantitative"},
"y":{"field":"w","type":"quantitative","scale":{"domain":[2088,2098],"zero":false,"nice":false},"axis":{"orient":"right","values":[2088,2090,2092,2094,2096,2098],"format":"d","title":null,"labelColor":"#555555","labelFontSize":14,"tickSize":5}},
"color":{"field":"s","type":"nominal","legend":null},"shape":{"field":"s","type":"nominal","legend":null}}}
],
"resolve":{"scale":{"y":"independent"}}},
{"width":274,"height":178,"data":{"name":"D"},
"layer":[
{"layer":[
{"transform":[{"filter":"datum.s=='CH₂'"}],"mark":{"type":"point","filled":true,"size":24,"opacity":1},
"encoding":{"x":{"field":"t","type":"quantitative","scale":{"domain":[0,100],"nice":false},"axis":{"values":[0,20,40,60,80,100],"title":"Temperature [°C]","titlePadding":8}},
"y":{"field":"w","type":"quantitative","scale":{"domain":[2851,2855],"zero":false,"nice":false},"axis":{"values":[2851,2852,2853,2854,2855],"format":"d","title":"Wavenumber [cm⁻¹]","labelPadding":1,"titlePadding":5}},
"color":{"field":"s","type":"nominal","scale":{"domain":["CH₂","CD₂"],"range":["#000000","#999999"]},"legend":null},
"shape":{"field":"s","type":"nominal","scale":{"domain":["CH₂","CD₂"],"range":["circle","square"]},"legend":null}}},
{"data":{"values":[{}]},"mark":{"type":"text","fontSize":15,"fontWeight":"bold","align":"left","baseline":"alphabetic","font":"Liberation Sans"},
"encoding":{"x":{"datum":6.6,"type":"quantitative","axis":{"values":[0,20,40,60,80,100],"title":"Temperature [°C]","titlePadding":8}},"y":{"datum":2854.91,"type":"quantitative","axis":{"values":[2851,2852,2853,2854,2855],"format":"d","title":"Wavenumber [cm⁻¹]","labelPadding":1,"titlePadding":5}},"text":{"value":"D"}}}
]},
{"transform":[{"filter":"datum.s=='CD₂'"}],"mark":{"type":"square","size":30,"opacity":1},
"encoding":{"x":{"field":"t","type":"quantitative"},
"y":{"field":"w","type":"quantitative","scale":{"domain":[2088,2098],"zero":false,"nice":false},"axis":{"orient":"right","values":[2088,2090,2092,2094,2096,2098],"format":"d","title":null,"labelColor":"#555555","labelFontSize":14,"tickSize":5}},
"color":{"field":"s","type":"nominal","legend":null},"shape":{"field":"s","type":"nominal","legend":null}}}
],
"resolve":{"scale":{"y":"independent"}}}
],"spacing":35,"resolve":{"legend":{"color":"independent","shape":"independent"}}}
]}
